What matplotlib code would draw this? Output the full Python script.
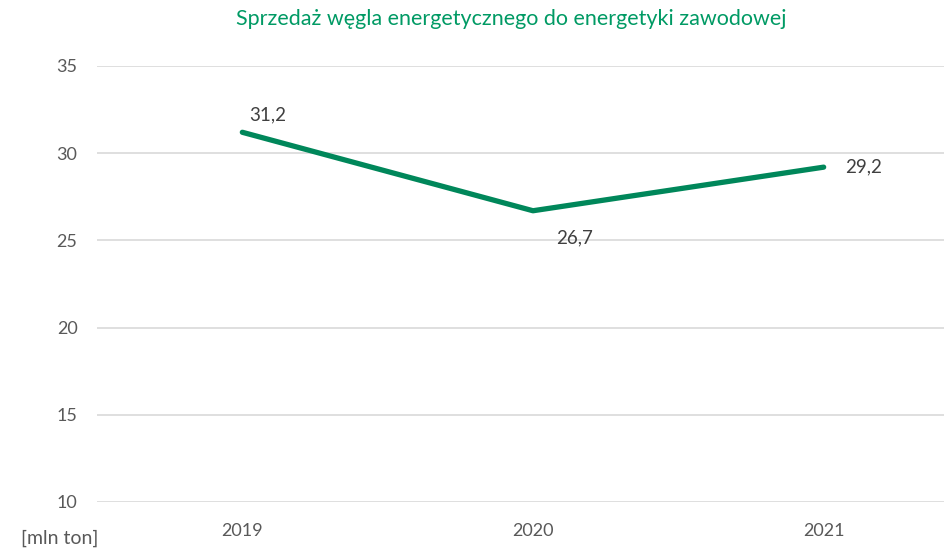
import matplotlib
matplotlib.use("Agg")
import matplotlib.pyplot as plt

years = ["2019", "2020", "2021"]
sales = [31.2, 26.7, 29.2]
labels = ["31,2", "26,7", "29,2"]
yticks = [10, 15, 20, 25, 30, 35]

GREEN = "#00875a"
TITLE_GREEN = "#009a64"
TXT = "#404040"

plt.rcParams["font.family"] = ["Lato", "DejaVu Sans"]

fig = plt.figure(figsize=(9.44, 5.48), dpi=100)
# axes extends past the right edge, as in the cropped original
ax = fig.add_axes([97 / 944, 46 / 548, 872 / 944, 436 / 548])

x = list(range(len(years)))
ax.plot(x, sales, color=GREEN, lw=3.8, solid_capstyle="round", zorder=3)

offsets = [(25, 17), (42, -27), (40, 0)]
for xi, v, lab, (dx, dy) in zip(x, sales, labels, offsets):
    ax.annotate(lab, (xi, v), xytext=(dx, dy), textcoords="offset pixels",
                ha="center", va="center", fontsize=13.5, color=TXT)

ax.set_xlim(-0.5, 2.5)
ax.set_ylim(10, 35)
ax.set_yticks(yticks)
ax.set_xticks(x)
ax.set_xticklabels(years)
ax.grid(axis="y", color="#d9d9d9", lw=1.2)
ax.set_axisbelow(True)
for s in ax.spines.values():
    s.set_visible(False)
ax.tick_params(length=0, labelsize=13, labelcolor="#595959")
ax.tick_params(axis="y", pad=14)
ax.tick_params(axis="x", pad=15)

fig.text(511 / 944, 1 - 19 / 548, "Sprzedaż węgla energetycznego do energetyki zawodowej",
         ha="center", va="center", fontsize=15.5, color=TITLE_GREEN)
fig.text(60 / 944, 1 - 538 / 548, "[mln ton]", ha="center", va="center",
         fontsize=14, color="#595959")

fig.savefig("out.png", dpi=100)
